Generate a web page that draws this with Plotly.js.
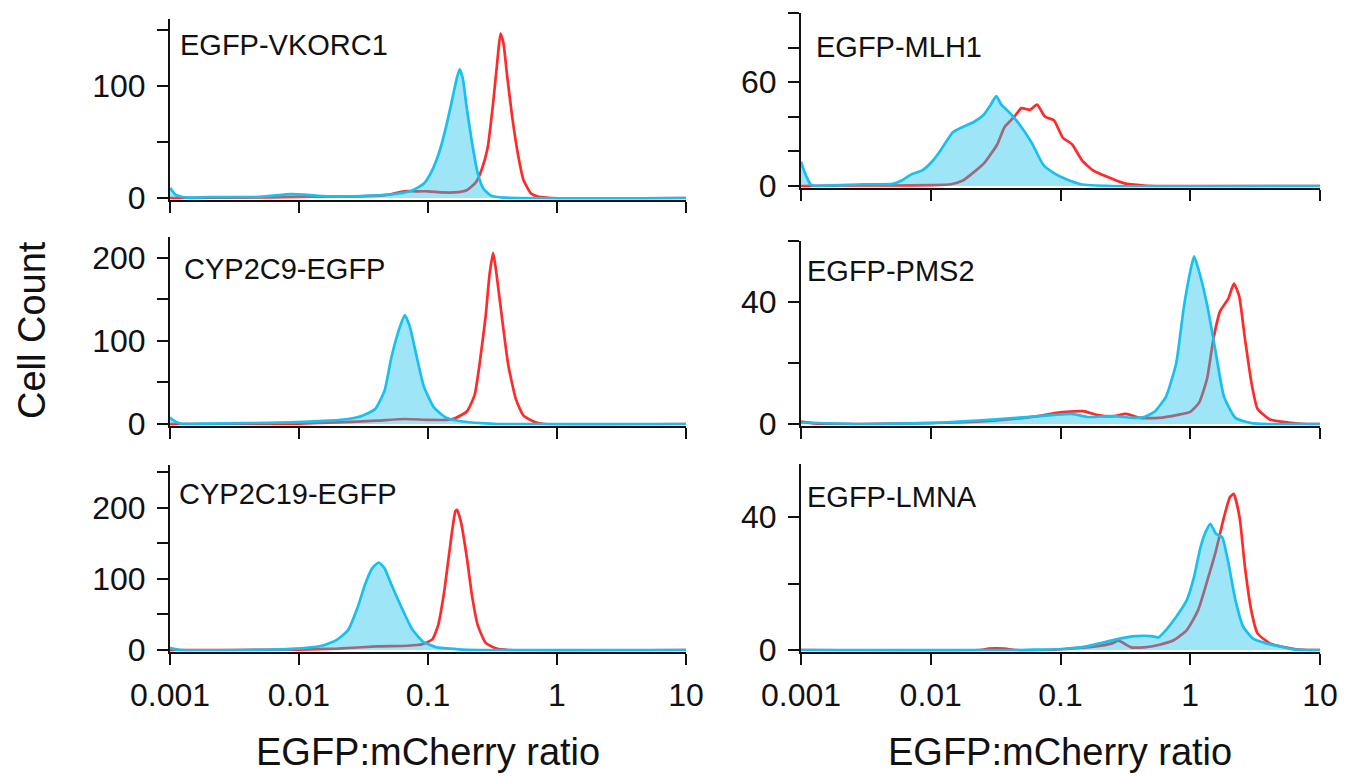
<!DOCTYPE html>
<html>
<head>
<meta charset="utf-8">
<script src="https://cdn.plot.ly/plotly-3.0.1.min.js"></script>
<style>html,body{margin:0;padding:0;background:#fff;}#chart{width:1346px;height:777px;}</style>
</head>
<body>
<div id="chart"></div>
<script>
// ---------- Data (EGFP:mCherry ratio vs cell count) ----------
const panelNames = ["EGFP-VKORC1", "EGFP-MLH1", "CYP2C9-EGFP", "EGFP-PMS2", "CYP2C19-EGFP", "EGFP-LMNA"];
const xTickVals = [0.001, 0.01, 0.1, 1, 10];
const xTickText = ["0.001", "0.01", "0.1", "1", "10"];

// EGFP-VKORC1
const vkorc1RedX  = [0.001, 0.003, 0.01, 0.03, 0.05, 0.065, 0.08, 0.1, 0.13, 0.16, 0.2, 0.235, 0.26, 0.29, 0.32, 0.35, 0.365, 0.385, 0.41, 0.45, 0.5, 0.55, 0.63, 0.72, 0.9, 10];
const vkorc1RedY  = [0, 0.3, 1, 1.5, 3, 6, 6, 6, 5, 5, 7, 14, 25, 45, 85, 130, 147, 138, 110, 72, 38, 16, 4, 1, 0, 0];
const vkorc1CyanX = [0.001, 0.00105, 0.0011, 0.0013, 0.002, 0.005, 0.0087, 0.011, 0.014, 0.02, 0.034, 0.059, 0.076, 0.093, 0.107, 0.123, 0.137, 0.152, 0.168, 0.176, 0.186, 0.2, 0.219, 0.243, 0.27, 0.31, 0.39, 10];
const vkorc1CyanY = [9, 6, 3, 0.5, 0.8, 1, 3.5, 3, 2, 1.5, 2, 4, 7, 13, 24, 42, 62, 85, 108, 115, 107, 80, 50, 22, 8, 2, 0.3, 0];

// EGFP-MLH1
const mlh1RedX  = [0.001, 0.002, 0.005, 0.0102, 0.0143, 0.0175, 0.0215, 0.0263, 0.0325, 0.037, 0.044, 0.05, 0.058, 0.066, 0.076, 0.089, 0.104, 0.123, 0.146, 0.178, 0.234, 0.31, 0.44, 0.6, 10];
const mlh1RedY  = [0, 0.3, 0.3, 0.5, 1, 3, 8, 14, 24, 34, 40, 45, 44, 47, 40, 38, 28, 24, 15, 9, 5, 1.5, 0.3, 0, 0];
const mlh1CyanX = [0.001, 0.00108, 0.0012, 0.0016, 0.003, 0.0051, 0.0059, 0.0072, 0.0086, 0.0102, 0.012, 0.0148, 0.0175, 0.0215, 0.0255, 0.029, 0.032, 0.035, 0.041, 0.049, 0.06, 0.074, 0.091, 0.11, 0.144, 0.25, 10];
const mlh1CyanY = [14, 7, 0.5, 0.3, 1, 1.2, 3, 7, 9, 14, 21, 31, 34, 37, 41, 47, 52, 47, 42, 35, 25, 12, 7, 4, 1, 0, 0];

// CYP2C9-EGFP
const cyp2c9RedX  = [0.001, 0.005, 0.01, 0.02, 0.04, 0.066, 0.1, 0.14, 0.162, 0.2, 0.23, 0.25, 0.28, 0.3, 0.32, 0.34, 0.38, 0.42, 0.48, 0.55, 0.68, 0.8, 10];
const cyp2c9RedY  = [0, 0, 0.5, 2, 4, 6, 5, 5, 7, 15, 35, 70, 130, 180, 206, 180, 120, 70, 30, 10, 2, 0, 0];
const cyp2c9CyanX = [0.001, 0.00105, 0.0012, 0.002, 0.0038, 0.0087, 0.017, 0.024, 0.031, 0.039, 0.046, 0.052, 0.06, 0.066, 0.072, 0.082, 0.093, 0.111, 0.137, 0.186, 0.26, 0.35, 10];
const cyp2c9CyanY = [8, 5, 0.5, 0.5, 1, 2, 4, 6, 10, 18, 40, 80, 115, 131, 118, 80, 45, 20, 8, 3, 1, 0, 0];

// EGFP-PMS2
const pms2RedX  = [0.001, 0.0012, 0.003, 0.0163, 0.032, 0.065, 0.088, 0.11, 0.15, 0.19, 0.25, 0.32, 0.41, 0.57, 0.8, 1.0, 1.17, 1.35, 1.51, 1.7, 1.96, 2.17, 2.38, 2.64, 2.95, 3.3, 4.1, 5.7, 8, 10];
const pms2RedY  = [0.8, 0.3, 0, 0.5, 1.2, 2.5, 3.5, 4, 4.2, 3, 2.5, 3.3, 2, 2, 3, 4, 7, 15, 28, 37, 41, 46, 42, 28, 14, 5, 1.5, 0.5, 0, 0];
const pms2CyanX = [0.001, 0.003, 0.0102, 0.0163, 0.032, 0.065, 0.09, 0.123, 0.162, 0.25, 0.38, 0.44, 0.53, 0.65, 0.78, 0.89, 1.0, 1.07, 1.17, 1.35, 1.55, 1.82, 2.23, 2.95, 4, 10];
const pms2CyanY = [0.5, 0, 0.3, 0.8, 1.5, 2.5, 3, 3.3, 2.3, 2.6, 2, 2.3, 4, 9, 20, 38, 50, 55, 50, 39, 25, 9, 2, 0.3, 0, 0];

// CYP2C19-EGFP
const cyp2c19RedX  = [0.001, 0.003, 0.01, 0.02, 0.04, 0.07, 0.09, 0.108, 0.12, 0.133, 0.147, 0.163, 0.168, 0.18, 0.2, 0.22, 0.243, 0.28, 0.34, 0.42, 10];
const cyp2c19RedY  = [0, 0, 0.5, 2, 5, 6, 8, 15, 35, 80, 140, 195, 197, 180, 130, 75, 35, 10, 2, 0, 0];
const cyp2c19CyanX = [0.001, 0.00105, 0.0012, 0.0036, 0.0076, 0.0114, 0.015, 0.0195, 0.024, 0.0285, 0.0325, 0.037, 0.0415, 0.046, 0.052, 0.063, 0.075, 0.091, 0.115, 0.173, 0.25, 10];
const cyp2c19CyanY = [3, 2, 0, 0, 1, 3, 6, 14, 28, 60, 92, 115, 123, 115, 92, 58, 30, 12, 4, 1, 0, 0];

// EGFP-LMNA
const lmnaRedX  = [0.001, 0.024, 0.028, 0.037, 0.045, 0.08, 0.11, 0.18, 0.25, 0.28, 0.35, 0.44, 0.57, 0.75, 0.94, 1.15, 1.38, 1.58, 1.82, 2.02, 2.16, 2.4, 2.64, 2.95, 3.3, 4.1, 5.4, 6.6, 8, 10];
const lmnaRedY  = [0, 0, 0.4, 0.4, 0, 0, 0.3, 1, 2, 2.8, 0.8, 0.8, 1.5, 3, 6, 12, 22, 30, 40, 46, 47, 40, 25, 12, 5, 2, 0.8, 0.2, 0, 0];
const lmnaCyanX = [0.001, 0.05, 0.065, 0.104, 0.155, 0.2, 0.29, 0.38, 0.5, 0.57, 0.65, 0.78, 0.94, 1.07, 1.2, 1.33, 1.43, 1.58, 1.76, 1.95, 2.23, 2.56, 3.03, 3.85, 5.0, 6.2, 7.5, 10];
const lmnaCyanY = [0, 0, 0.1, 0.3, 1, 2, 3.5, 4.2, 4.2, 3.8, 6, 10, 15, 22, 31, 36, 38, 35, 34, 27, 15, 7, 3.5, 2, 1, 0.2, 0, 0];

// ---------- Styling / layout ----------
const RED = "#ff2a2a";
const CYAN = "#19c0ee";
const CYAN_FILL = "rgba(25,192,238,0.42)";
const FONT = "Arial, 'Liberation Sans', Helvetica, sans-serif";
const W = 1346, H = 777;

const series = [
  [vkorc1RedX, vkorc1RedY, vkorc1CyanX, vkorc1CyanY],
  [mlh1RedX, mlh1RedY, mlh1CyanX, mlh1CyanY],
  [cyp2c9RedX, cyp2c9RedY, cyp2c9CyanX, cyp2c9CyanY],
  [pms2RedX, pms2RedY, pms2CyanX, pms2CyanY],
  [cyp2c19RedX, cyp2c19RedY, cyp2c19CyanX, cyp2c19CyanY],
  [lmnaRedX, lmnaRedY, lmnaCyanX, lmnaCyanY]
];

// panel geometry in pixels: [left, right, zeroY, topY, yMax, labelled dtick, minor dtick, label x, label y]
const geom = [
  [170, 686, 198, 19, 160, 100, 50, 178, 45],
  [801, 1320, 186, 13, 100, 60, 20, 814, 47],
  [170, 686, 424, 237, 225, 100, 50, 182, 269],
  [801, 1320, 424, 241, 60, 40, 20, 805, 271],
  [170, 686, 650, 465, 260, 100, 50, 177, 494],
  [801, 1320, 650, 464, 56, 40, 20, 805, 497]
];

const traces = [];
const layout = {
  width: W, height: H,
  margin: {l: 0, r: 0, t: 0, b: 0},
  paper_bgcolor: "#fff", plot_bgcolor: "rgba(0,0,0,0)",
  showlegend: false,
  font: {family: FONT, color: "#111"},
  annotations: []
};

geom.forEach((g, i) => {
  const n = i + 1;
  const xa = n === 1 ? "x" : "x" + n;
  const ya = n === 1 ? "y" : "y" + n;
  const [l, r, z, t, ymax, dt, mdt, lx, ly] = g;
  const pad = 1.5;
  const perPx = ymax / (z - t);
  const s = series[i];
  traces.push({x: s[0], y: s[1], xaxis: xa, yaxis: ya, type: "scatter", mode: "lines",
    line: {color: RED, width: 2.7, shape: "spline", smoothing: 0.5}, hoverinfo: "skip"});
  traces.push({x: s[2], y: s[3], xaxis: xa, yaxis: ya, type: "scatter", mode: "lines",
    fill: "tozeroy", fillcolor: CYAN_FILL,
    line: {color: CYAN, width: 2.7, shape: "spline", smoothing: 0.5}, hoverinfo: "skip"});
  const bottomRow = n >= 5;
  layout[n === 1 ? "xaxis" : "xaxis" + n] = {
    type: "log", range: [-3, 1], domain: [l / W, r / W], anchor: ya,
    showline: true, linecolor: "#111", linewidth: 2, mirror: false,
    ticks: "outside", ticklen: 11, tickwidth: 2, tickcolor: "#111",
    tickvals: xTickVals, ticktext: xTickText,
    showticklabels: bottomRow, ticklabelstandoff: 3,
    tickfont: {size: 32, family: FONT, color: "#111"},
    showgrid: false, zeroline: false, fixedrange: true
  };
  layout[n === 1 ? "yaxis" : "yaxis" + n] = {
    range: [-pad * perPx, ymax], domain: [1 - (z + pad) / H, 1 - t / H], anchor: xa,
    showline: true, linecolor: "#111", linewidth: 2,
    ticks: "outside", ticklen: 11, tickwidth: 2, tickcolor: "#111",
    tick0: 0, dtick: dt, ticklabelstandoff: 5,
    minor: {dtick: mdt, tick0: 0, ticks: "outside", ticklen: 11, tickwidth: 2, tickcolor: "#111", showgrid: false},
    tickfont: {size: 32, family: FONT, color: "#111"},
    showgrid: false, zeroline: false, fixedrange: true
  };
  layout.annotations.push({text: panelNames[i], xref: "paper", yref: "paper",
    x: lx / W, y: 1 - ly / H, xanchor: "left", yanchor: "middle", showarrow: false,
    font: {size: 29, family: FONT, color: "#111"}});
});

layout.annotations.push({text: "Cell Count", xref: "paper", yref: "paper", x: 32 / W, y: 1 - 330 / H,
  textangle: -90, xanchor: "center", yanchor: "middle", showarrow: false, font: {size: 38, family: FONT, color: "#111"}});
layout.annotations.push({text: "EGFP:mCherry ratio", xref: "paper", yref: "paper", x: 428 / W, y: 1 - 752 / H,
  xanchor: "center", yanchor: "middle", showarrow: false, font: {size: 38, family: FONT, color: "#111"}});
layout.annotations.push({text: "EGFP:mCherry ratio", xref: "paper", yref: "paper", x: 1060 / W, y: 1 - 752 / H,
  xanchor: "center", yanchor: "middle", showarrow: false, font: {size: 38, family: FONT, color: "#111"}});

Plotly.newPlot("chart", traces, layout, {staticPlot: true, displayModeBar: false});
</script>
</body>
</html>
